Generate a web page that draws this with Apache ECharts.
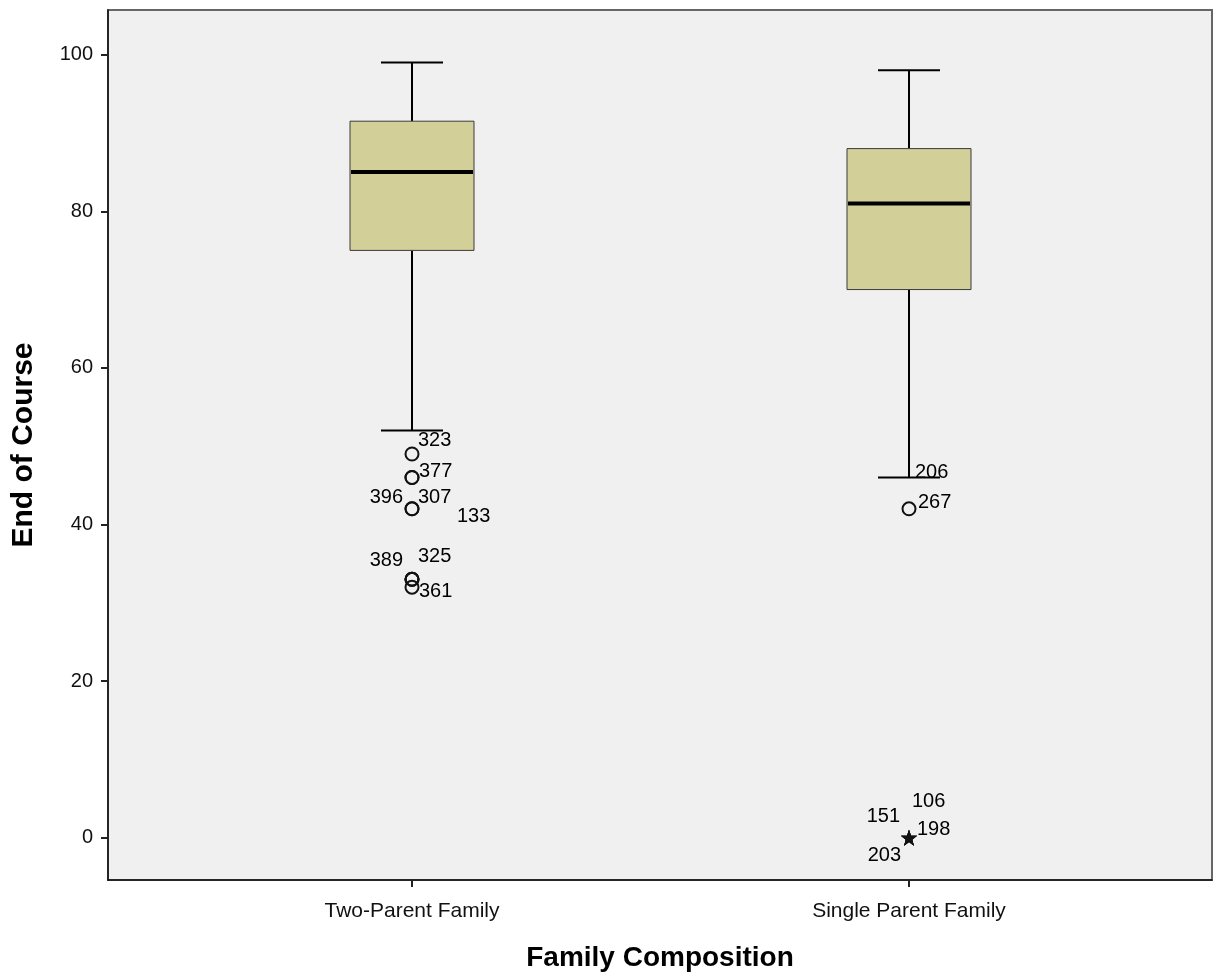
<!DOCTYPE html>
<html>
<head>
<meta charset="utf-8">
<script src="https://cdn.jsdelivr.net/npm/echarts@6/dist/echarts.min.js"></script>
<style>html,body{margin:0;padding:0;background:#fff}#c{width:1217px;height:972px}</style>
</head>
<body>
<div id="c"></div>
<script>
// ---- data ----
const categories = ['Two-Parent Family', 'Single Parent Family'];
// [lower whisker, Q1, median, Q3, upper whisker]
const boxTwoParent = [52, 75, 85, 91.5, 99];
const boxSingleParent = [46, 70, 81, 88, 98];
// outliers drawn as circles: [category index (1-based), value, case id]
const outliersTwoParent = [
  [1, 49, '323'], [1, 46, '377'], [1, 46, ''], [1, 42, '396'], [1, 42, '307'],
  [1, 33, '389'], [1, 33, '325'], [1, 33, ''], [1, 32, '361']
];
const outliersSingleParent = [
  [2, 42, '267']
];
// cases labelled without a visible marker
const labelOnlyCases = [
  [1, 42, '133'], [2, 46, '206']
];
// extreme values drawn as stars
const extremesSingleParent = [
  [2, 0, '106'], [2, 0, '151'], [2, 0, '198'], [2, 0, '203']
];
const yTicks = [0, 20, 40, 60, 80, 100];

// ---- label placement (style) ----
const labelOffsets = {
  '323': [6, -14, 'left'], '377': [7, -6, 'left'], '396': [-9, -11, 'right'],
  '307': [6, -11, 'left'], '133': [45, 8, 'left'], '389': [-9, -19, 'right'],
  '325': [6, -23, 'left'], '361': [7, 4, 'left'], '206': [6, -5, 'left'],
  '267': [9, -6, 'left'], '106': [3, -36, 'left'], '151': [-9, -21, 'right'],
  '198': [8, -8, 'left'], '203': [-8, 18, 'right']
};

const boxes = [[1].concat(boxTwoParent), [2].concat(boxSingleParent)];
const FONT = '"Liberation Sans", Arial, sans-serif';

function renderBox(params, api) {
  const x = api.value(0);
  const lo = api.coord([x, api.value(1)]);
  const q1 = api.coord([x, api.value(2)]);
  const med = api.coord([x, api.value(3)]);
  const q3 = api.coord([x, api.value(4)]);
  const hi = api.coord([x, api.value(5)]);
  const bw = 124, cw = 62;
  const cx = lo[0];
  const line = (x1, y1, x2, y2, w) => ({type: 'line', shape: {x1, y1, x2, y2}, style: {stroke: '#000', lineWidth: w}});
  return {
    type: 'group',
    children: [
      line(cx, hi[1], cx, q3[1], 2),
      line(cx, q1[1], cx, lo[1], 2),
      line(cx - cw / 2, hi[1], cx + cw / 2, hi[1], 2),
      line(cx - cw / 2, lo[1], cx + cw / 2, lo[1], 2),
      {type: 'rect', shape: {x: cx - bw / 2, y: q3[1], width: bw, height: q1[1] - q3[1]},
       style: {fill: '#d3cf98', stroke: '#3a3a3a', lineWidth: 1}},
      line(cx - bw / 2 + 1, med[1], cx + bw / 2 - 1, med[1], 4)
    ]
  };
}

function labelRender(pts) {
  return pts.map(p => {
    const o = labelOffsets[p[2]];
    return {
      value: [p[0], p[1]],
      name: p[2],
      label: o ? {
        show: true, formatter: p[2], position: 'inside', align: o[2], verticalAlign: 'middle',
        offset: [o[0], o[1]], fontFamily: FONT, fontSize: 20, color: '#000', opacity: 1
      } : {show: false}
    };
  });
}

const chart = echarts.init(document.getElementById('c'), null, {renderer: 'canvas'});
chart.setOption({
  animation: false,
  backgroundColor: '#ffffff',
  grid: {left: 108, top: 10, right: 5, bottom: 92, show: true, backgroundColor: '#f0f0f0',
         borderColor: '#666', borderWidth: 2, outerBoundsMode: 'none', containLabel: false},
  xAxis: {
    type: 'value', min: 1 - 304 / 497, max: 2 + 303 / 497,
    name: 'Family Composition', nameLocation: 'middle', nameGap: 64,
    nameTextStyle: {fontFamily: FONT, fontWeight: 'bold', fontSize: 28, color: '#000'},
    axisLine: {show: true, onZero: false, lineStyle: {color: '#111', width: 1.5}},
    axisTick: {show: true, customValues: [1, 2], length: 7, lineStyle: {color: '#222', width: 2}},
    axisLabel: {customValues: [1, 2], formatter: v => categories[Math.round(v) - 1] || '',
                fontFamily: FONT, fontSize: 21, color: '#111', margin: 21},
    splitLine: {show: false}
  },
  yAxis: {
    type: 'value', min: -5.4, max: 105.7,
    name: 'End of Course', nameLocation: 'middle', nameGap: 69,
    nameTextStyle: {fontFamily: FONT, fontWeight: 'bold', fontSize: 30, color: '#000'},
    axisLine: {show: true, lineStyle: {color: '#111', width: 1.5}},
    axisTick: {show: true, customValues: yTicks, length: 7, lineStyle: {color: '#222', width: 2}},
    axisLabel: {customValues: yTicks, fontFamily: FONT, fontSize: 20, color: '#111', margin: 15},
    splitLine: {show: false}
  },
  series: [
    {type: 'custom', renderItem: renderBox, data: boxes, z: 2},
    {type: 'scatter', symbol: 'circle', symbolSize: 13,
     itemStyle: {color: 'rgba(0,0,0,0)', borderColor: '#111', borderWidth: 2, opacity: 1},
     data: labelRender(outliersTwoParent.concat(outliersSingleParent)), z: 3},
    {type: 'scatter', symbol: 'circle', symbolSize: 0.1,
     itemStyle: {color: 'rgba(0,0,0,0)', opacity: 1},
     data: labelRender(labelOnlyCases), z: 3},
    {type: 'scatter', symbol: 'path://M0,-10 L2.35,-3.24 L9.51,-3.09 L3.8,1.24 L5.88,8.09 L0,4 L-5.88,8.09 L-3.8,1.24 L-9.51,-3.09 L-2.35,-3.24 Z',
     symbolSize: 16, itemStyle: {color: '#111', opacity: 1},
     data: labelRender(extremesSingleParent), z: 3}
  ]
});
</script>
</body>
</html>
